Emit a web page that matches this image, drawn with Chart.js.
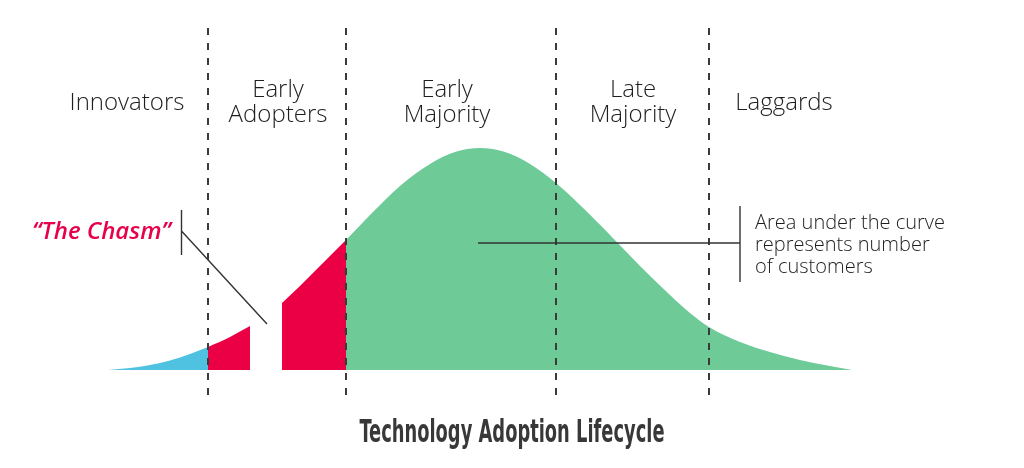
<!DOCTYPE html>
<html><head><meta charset="utf-8">
<script src="https://cdn.jsdelivr.net/npm/chart.js@4/dist/chart.umd.min.js"></script>
<style>html,body{margin:0;padding:0;background:#fff;overflow:hidden}canvas{display:block}</style>
</head><body><canvas id="c" width="1024" height="468"></canvas>
<script>
// ---- data ----
const curveX = [108,130,150,170,190,208,230,250,270,282,300,320,346,370,400,430,455,480,505,530,556,580,610,640,670,690,709,740,770,800,830,852];
const curveY = [0,2,5,9.5,16,23,33,44,58,67,84,104,130,155,184,206,218,222,218,206,187,165,135,104,75,57,43,28,18,10,4,0];
const segmentNames = ['Innovators','Early Adopters','Early Adopters (past chasm)','Majority and Laggards'];
const segmentStart = [108,208,282,346];
const segmentEnd   = [208,250,346,852];
const dividerX = [208,346,556,709];
const dividerLow = -25, dividerHigh = 342;
const phaseLabels = [['Innovators'],['Early','Adopters'],['Early','Majority'],['Late','Majority'],['Laggards']];
const chasmLabel = '\u201CThe Chasm\u201D';
const noteLines = ['Area under the curve','represents number','of customers'];
const chartTitle = 'Technology Adoption Lifecycle';

// ---- styles & layout ----
const segmentColors = ['#4EC2E0','#EB0045','#EB0045','#6ECB98'];
const layout = {
  phaseCenters: [127,278,447,633,784],
  phaseBaseOne: 110, phaseBaseTwo: [97,122],
  chasmText: {x:32, y:239},
  chasmTick: {x:181.5, y0:210, y1:255},
  chasmPointer: {x0:181.5, y0:231, x1:267, y1:324},
  notePointer: {x0:478, x1:740, y:243},
  noteTick: {x:740, y0:206, y1:282},
  noteText: {x:755, base:[229,251,273]},
  title: {x:512, y:442, width:305}
};

const datasets = [];
dividerX.forEach((x,i)=>{
  datasets.push({label:'divider'+i, type:'line', data:[{x:x,y:dividerHigh},{x:x,y:dividerLow}],
    borderColor:'#3a3a3a', borderWidth:2, borderDash:[7,8], pointRadius:0, fill:false, order:0});
});
segmentNames.forEach((n,i)=>{
  const pts=[];
  curveX.forEach((x,j)=>{ if(x>=segmentStart[i] && x<=segmentEnd[i]) pts.push({x:x,y:curveY[j]}); });
  datasets.push({label:n, type:'line', data:pts, backgroundColor:segmentColors[i], borderWidth:0,
    borderColor:'rgba(0,0,0,0)', pointRadius:0, fill:'origin', cubicInterpolationMode:'monotone', order:1});
});

const annot = {
  id:'annot',
  afterDatasetsDraw(chart){
    const ctx = chart.ctx;
    ctx.save();
    ctx.fillStyle='#1e1e1e';
    ctx.textAlign='center';
    ctx.textBaseline='alphabetic';
    ctx.font='300 24px "Open Sans", sans-serif';
    phaseLabels.forEach((lines,i)=>{
      const cx = layout.phaseCenters[i];
      if(lines.length===1) ctx.fillText(lines[0], cx, layout.phaseBaseOne);
      else lines.forEach((t,k)=>ctx.fillText(t, cx, layout.phaseBaseTwo[k]));
    });
    ctx.textAlign='left';
    ctx.fillStyle='#E8004A';
    ctx.font='italic 600 24px "Open Sans", sans-serif';
    ctx.fillText(chasmLabel, layout.chasmText.x, layout.chasmText.y);
    ctx.strokeStyle='#333';
    ctx.lineWidth=1.4;
    ctx.beginPath();
    ctx.moveTo(layout.chasmTick.x, layout.chasmTick.y0); ctx.lineTo(layout.chasmTick.x, layout.chasmTick.y1);
    ctx.moveTo(layout.chasmPointer.x0, layout.chasmPointer.y0); ctx.lineTo(layout.chasmPointer.x1, layout.chasmPointer.y1);
    ctx.moveTo(layout.notePointer.x0, layout.notePointer.y); ctx.lineTo(layout.notePointer.x1, layout.notePointer.y);
    ctx.moveTo(layout.noteTick.x, layout.noteTick.y0); ctx.lineTo(layout.noteTick.x, layout.noteTick.y1);
    ctx.stroke();
    ctx.fillStyle='#1e1e1e';
    ctx.font='300 20px "Open Sans", sans-serif';
    noteLines.forEach((t,k)=>ctx.fillText(t, layout.noteText.x, layout.noteText.base[k]));
    ctx.font='bold 32px "Liberation Sans Narrow", "DejaVu Sans Condensed", "Roboto", sans-serif';
    const w = ctx.measureText(chartTitle).width;
    const sx = layout.title.width / w;
    ctx.translate(layout.title.x, layout.title.y);
    ctx.scale(sx,1);
    ctx.textAlign='center';
    ctx.fillStyle='#383838';
    ctx.fillText(chartTitle, 0, 0);
    ctx.restore();
  }
};

new Chart(document.getElementById('c'), {
  type:'line',
  data:{datasets:datasets},
  options:{
    responsive:false, animation:false, devicePixelRatio:1,
    layout:{padding:0},
    plugins:{legend:{display:false}, tooltip:{enabled:false}, title:{display:false}},
    scales:{
      x:{type:'linear', min:0, max:1024, display:false},
      y:{type:'linear', min:-98, max:370, display:false}
    }
  },
  plugins:[annot]
});
</script>
</body></html>
